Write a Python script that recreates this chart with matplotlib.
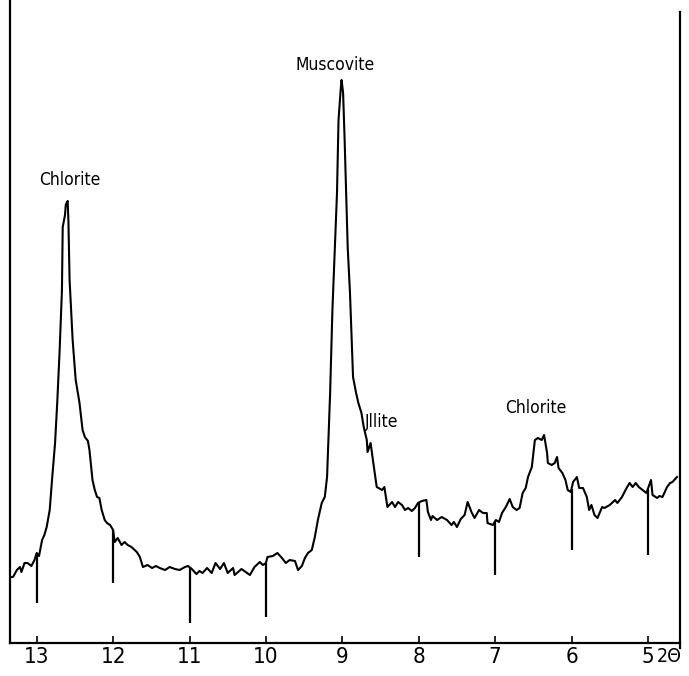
import numpy as np
import matplotlib
matplotlib.use("Agg")
import matplotlib.pyplot as plt
from matplotlib import font_manager

# --- recorded diffractogram trace (2-theta in degrees, intensity in arbitrary chart units) ---
two_theta = [
    13.35, 13.31, 13.26, 13.22, 13.20, 13.16, 13.12, 13.07, 13.03, 13.00, 12.97, 12.93, 12.90, 12.87,
    12.83, 12.80, 12.76, 12.73, 12.70, 12.67, 12.66, 12.63, 12.62, 12.61, 12.595, 12.585, 12.57, 12.53,
    12.49, 12.44, 12.40, 12.37, 12.33, 12.31, 12.27, 12.24, 12.21, 12.18, 12.15, 12.11, 12.08, 12.04,
    12.00, 11.98, 11.94, 11.89, 11.85, 11.81, 11.76, 11.69, 11.65, 11.61, 11.55, 11.49, 11.44, 11.39,
    11.32, 11.26, 11.19, 11.13, 11.06, 11.02, 10.97, 10.91, 10.87, 10.83, 10.77, 10.71, 10.66, 10.60,
    10.55, 10.50, 10.43, 10.41, 10.32, 10.21, 10.15, 10.08, 10.04, 10.00, 9.98, 9.91, 9.85, 9.79,
    9.74, 9.69, 9.62, 9.58, 9.53, 9.49, 9.45, 9.40, 9.36, 9.32, 9.27, 9.23, 9.20, 9.16, 9.13, 9.07,
    9.05, 9.02, 9.01, 8.99, 8.97, 8.93, 8.90, 8.86, 8.82, 8.79, 8.75, 8.72, 8.68, 8.67, 8.63, 8.60,
    8.55, 8.48, 8.45, 8.41, 8.35, 8.31, 8.27, 8.22, 8.18, 8.14, 8.09, 8.05, 8.01, 7.96, 7.90, 7.88,
    7.84, 7.82, 7.76, 7.70, 7.63, 7.57, 7.54, 7.50, 7.45, 7.40, 7.36, 7.31, 7.27, 7.21, 7.16, 7.11,
    7.10, 7.03, 6.99, 6.95, 6.91, 6.86, 6.81, 6.77, 6.72, 6.68, 6.64, 6.60, 6.57, 6.52, 6.48, 6.44,
    6.39, 6.36, 6.32, 6.31, 6.26, 6.22, 6.19, 6.17, 6.12, 6.08, 6.05, 6.01, 5.98, 5.93, 5.90, 5.85,
    5.80, 5.77, 5.74, 5.70, 5.66, 5.60, 5.57, 5.50, 5.43, 5.40, 5.34, 5.28, 5.24, 5.20, 5.16, 5.12,
    5.07, 5.02, 4.96, 4.94, 4.88, 4.85, 4.81, 4.75, 4.71, 4.68, 4.62,
]
intensity = [
    66, 66, 73, 76, 71, 80, 80, 77, 83, 90, 87, 103, 108, 116,
    133, 163, 200, 243, 293, 353, 416, 428, 438, 440, 442, 421, 363, 303,
    263, 240, 213, 206, 202, 193, 163, 153, 146, 145, 133, 123, 120, 118,
    113, 101, 105, 98, 101, 98, 96, 91, 86, 76, 78, 75, 77, 75,
    73, 76, 74, 73, 76, 77, 74, 69, 72, 70, 75, 70, 80, 74,
    80, 70, 75, 68, 74, 68, 76, 81, 78, 80, 86, 87, 90, 85,
    80, 83, 82, 73, 77, 85, 90, 93, 106, 123, 140, 146, 166, 250, 333, 450,
    523, 555, 563, 550, 503, 396, 350, 266, 250, 240, 230, 216, 203, 191, 200, 183,
    156, 153, 156, 136, 141, 136, 141, 138, 133, 135, 132, 135, 140, 142, 143, 131,
    123, 127, 123, 126, 123, 118, 121, 116, 124, 128, 141, 131, 125, 133, 130, 130,
    120, 118, 123, 121, 130, 136, 144, 136, 133, 135, 150, 155, 166, 176, 203, 205,
    203, 208, 190, 180, 178, 180, 186, 175, 170, 163, 153, 151, 161, 166, 155, 155,
    146, 133, 138, 128, 125, 136, 135, 138, 143, 140, 146, 155, 160, 156, 160, 156,
    153, 150, 163, 148, 145, 147, 146, 156, 160, 161, 166,
]

# recorder degree marks hanging below the trace, and how far down each one reaches
mark_deg = [13, 12, 11, 10, 8, 7, 6, 5]
mark_low = [40, 60, 20, 26, 86, 68, 93, 88]

tick_deg = [13, 12, 11, 10, 9, 8, 7, 6, 5]

# peak annotations: (text, 2-theta, intensity, horizontal alignment)
peak_names = ["Chlorite", "Muscovite", "Jllite", "Chlorite"]
peak_x = [12.57, 9.10, 8.70, 6.47]
peak_y = [463, 578, 221, 235]
peak_ha = ["center", "center", "left", "center"]

installed = {f.name for f in font_manager.fontManager.ttflist}
narrow = "Liberation Sans Narrow" if "Liberation Sans Narrow" in installed else "DejaVu Sans"
plt.rcParams["font.family"] = [narrow, "DejaVu Sans"]
plt.rcParams["font.stretch"] = "condensed"

fig = plt.figure(figsize=(6.89, 6.76), dpi=100)
ax = fig.add_axes([0.0145, 0.0488, 0.9725, 0.9512])

ax.plot(two_theta, intensity, color="black", linewidth=1.5, solid_joinstyle="round")

mark_top = np.interp(mark_deg, two_theta[::-1], intensity[::-1])
ax.vlines(mark_deg, mark_low, mark_top, color="black", linewidth=1.6)

for name, px, py, ha in zip(peak_names, peak_x, peak_y, peak_ha):
    ax.text(px, py, name, ha=ha, va="center", fontsize=12.5, color="black",
            fontstretch="condensed")

ax.set_xlim(13.35, 4.58)
ax.set_ylim(0, 643)
ax.set_xticks(tick_deg)
ax.set_xticklabels([str(t) for t in tick_deg], fontsize=16, fontstretch="condensed")
ax.tick_params(axis="x", direction="in", length=5, width=1.2, pad=3, color="black")
ax.set_yticks([])

ax.spines["top"].set_visible(False)
for side in ("left", "right", "bottom"):
    ax.spines[side].set_linewidth(1.6)
ax.spines["right"].set_bounds(-5, 631)

ax.text(4.72, -0.0065, "2Θ", transform=ax.get_xaxis_transform(), ha="center", va="top",
        fontsize=14, fontstretch="condensed", clip_on=False)

fig.savefig("out.png", dpi=100, facecolor="white")
